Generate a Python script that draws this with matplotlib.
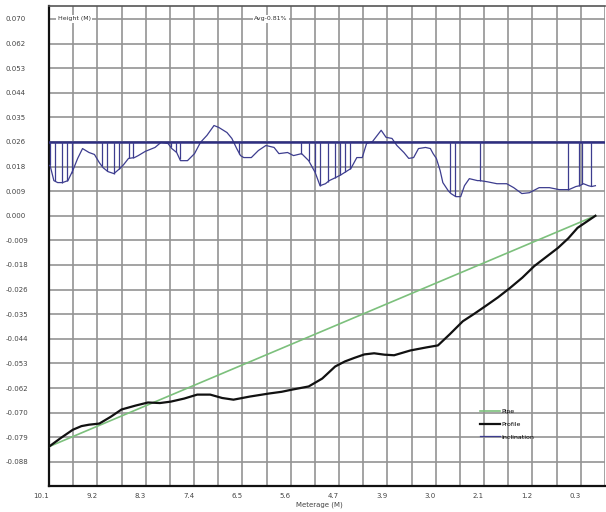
import numpy as np
import matplotlib
matplotlib.use("Agg")
import matplotlib.pyplot as plt

# ---- data ----
y_tick_vals = [0.07, 0.06125, 0.0525, 0.04375, 0.035, 0.02625, 0.0175, 0.00875, 0.0,
               -0.00875, -0.0175, -0.02625, -0.035, -0.04375, -0.0525, -0.06125,
               -0.07, -0.07875, -0.0875]
y_tick_labels = ["0.070", "0.062", "0.053", "0.044", "0.035", "0.026", "0.018", "0.009",
                 "0.000", "-0.009", "-0.018", "-0.026", "-0.035", "-0.044", "-0.053",
                 "-0.062", "-0.070", "-0.079", "-0.088"]
x_tick_labels = ["10.1", "9.2", "8.3", "7.4", "6.5", "5.6", "4.7", "3.9", "3.0", "2.1", "1.2", "0.3"]

pipe_m = [10.1, 0.0]
pipe_v = [-0.0821, 0.0]

profile_m = [10.10, 9.88, 9.66, 9.50, 9.36, 9.17, 8.96, 8.76, 8.50, 8.27, 8.05, 7.85,
             7.60, 7.36, 7.12, 6.90, 6.69, 6.39, 6.03, 5.80, 5.60, 5.30, 5.05, 4.81,
             4.63, 4.45, 4.27, 4.09, 3.90, 3.72, 3.42, 3.12, 2.91, 2.69, 2.45, 2.25,
             2.03, 1.80, 1.58, 1.35, 1.13, 0.90, 0.69, 0.50, 0.33, 0.00]
profile_v = [-0.0821, -0.0790, -0.0761, -0.0748, -0.0743, -0.0739, -0.0715, -0.0689,
             -0.0675, -0.0664, -0.0666, -0.0661, -0.0650, -0.0636, -0.0636, -0.0648,
             -0.0654, -0.0643, -0.0632, -0.0626, -0.0618, -0.0607, -0.0579, -0.0536,
             -0.0518, -0.0505, -0.0493, -0.0489, -0.0494, -0.0496, -0.0479, -0.0468,
             -0.0461, -0.0421, -0.0375, -0.0350, -0.0321, -0.0290, -0.0257, -0.0220,
             -0.0179, -0.0145, -0.0114, -0.0080, -0.0043, 0.0]

incl_m = [10.10, 10.08, 10.01, 9.94, 9.85, 9.75, 9.66, 9.57, 9.48, 9.36, 9.26, 9.17,
          9.10, 9.01, 8.90, 8.79, 8.72, 8.63, 8.52, 8.45, 8.32, 8.14, 8.03, 7.90, 7.83,
          7.74, 7.67, 7.54, 7.41, 7.30, 7.18, 7.05, 6.96, 6.81, 6.72, 6.63, 6.56, 6.50,
          6.36, 6.23, 6.09, 5.94, 5.85, 5.69, 5.58, 5.43, 5.30, 5.18, 5.09, 4.99, 4.92,
          4.80, 4.70, 4.61, 4.52, 4.41, 4.31, 4.23, 4.12, 3.96, 3.87, 3.76, 3.67, 3.54,
          3.45, 3.36, 3.27, 3.14, 3.05, 3.00, 2.94, 2.87, 2.82, 2.72, 2.67, 2.58, 2.49,
          2.42, 2.33, 2.18, 2.13, 2.00, 1.82, 1.64, 1.51, 1.36, 1.22, 1.04, 0.85, 0.67,
          0.49, 0.36, 0.29, 0.22, 0.13, 0.07, 0.00]
incl_v = [0.0179, 0.0179, 0.0125, 0.0118, 0.0118, 0.0125, 0.0161, 0.0204, 0.0239,
          0.0225, 0.0218, 0.0189, 0.0171, 0.0157, 0.0150, 0.0168, 0.0182, 0.0204,
          0.0207, 0.0214, 0.0229, 0.0243, 0.0261, 0.0257, 0.0239, 0.0225, 0.0196,
          0.0196, 0.0221, 0.0261, 0.0286, 0.0321, 0.0314, 0.0296, 0.0275, 0.0239,
          0.0214, 0.0207, 0.0207, 0.0232, 0.0250, 0.0243, 0.0221, 0.0225, 0.0214,
          0.0221, 0.0196, 0.0154, 0.0107, 0.0114, 0.0125, 0.0136, 0.0146, 0.0157,
          0.0168, 0.0207, 0.0207, 0.0257, 0.0264, 0.0304, 0.0279, 0.0275, 0.0250,
          0.0225, 0.0204, 0.0207, 0.0239, 0.0243, 0.0239, 0.0221, 0.0204, 0.0161,
          0.0118, 0.0089, 0.0079, 0.0068, 0.0068, 0.0107, 0.0132, 0.0125, 0.0125,
          0.0121, 0.0114, 0.0114, 0.0100, 0.0079, 0.0082, 0.0100, 0.0100, 0.0093,
          0.0093, 0.0104, 0.0107, 0.0114, 0.0107, 0.0104, 0.0107]
incl_base = 0.02625
spike_m = [10.08, 9.99, 9.86, 9.77, 9.68, 9.12, 9.03, 8.90, 8.81, 8.63, 8.54, 7.85,
           7.76, 7.68, 6.58, 5.45, 5.30, 5.18, 5.09, 4.94, 4.81, 4.72, 4.63, 4.54,
           2.69, 2.60, 2.14, 0.51, 0.31, 0.24, 0.09]

# ---- figure ----
W, H = 606, 512
fig = plt.figure(figsize=(W / 100, H / 100), dpi=100)
ax = fig.add_axes([49 / W, 1 - 486 / H, 556 / W, 480 / H])

ax.set_xlim(10.1, 0.0)
ax.set_ylim(-0.0961, 0.0746)

grid_col = "#939393"
step = 0.8937
x_ticks = [10.1 - i * step for i in range(len(x_tick_labels))]
x_minor = [10.1 - (i + 0.5) * step for i in range(len(x_tick_labels))]
ax.set_xticks(x_ticks)
ax.set_xticklabels(x_tick_labels)
ax.set_xticks(x_minor, minor=True)
ax.set_yticks(y_tick_vals)
ax.set_yticklabels(y_tick_labels)
ax.grid(True, which="both", color=grid_col, linewidth=1.2)
ax.set_axisbelow(True)

ax.tick_params(axis="both", which="both", length=0, labelsize=5, labelcolor="#444444")
ax.tick_params(axis="y", pad=31)
for lab in ax.get_yticklabels():
    lab.set_horizontalalignment("left")
ax.tick_params(axis="x", pad=5)
for lab in ax.get_xticklabels():
    lab.set_horizontalalignment("right")

for s in ["left", "bottom"]:
    ax.spines[s].set_color("#111111")
    ax.spines[s].set_linewidth(1.6)
ax.spines["top"].set_color("#555555")
ax.spines["top"].set_linewidth(1.2)
ax.spines["right"].set_visible(False)

# series
ax.plot(pipe_m, pipe_v, color="#7cc07c", linewidth=1.2, label="Pipe", zorder=3)
ax.plot(profile_m, profile_v, color="#111111", linewidth=1.6, label="Profile", zorder=4)
ax.plot(incl_m, incl_v, color="#3d3d8f", linewidth=0.9, label="Inclination", zorder=3)
ax.axhline(incl_base, color="#2e2e80", linewidth=1.8, zorder=3)
m_rev = np.array(incl_m)[::-1]
v_rev = np.array(incl_v)[::-1]
spike_low = np.interp(spike_m, m_rev, v_rev)
ax.vlines(spike_m, spike_low, incl_base, color="#3d3d8f", linewidth=0.9, zorder=3)

# texts
ax.text(10.1 - 9 / 55.05, 0.070, "Height (M)", fontsize=4.5, color="#333333",
        va="center", ha="left", zorder=5,
        bbox=dict(facecolor="white", edgecolor="none", pad=1))
ax.text(10.1 - 209 / 55.05, 0.070, "Avg-0.81%", fontsize=4.5, color="#333333",
        va="center", ha="left", zorder=5,
        bbox=dict(facecolor="white", edgecolor="none", pad=1))

ax.set_xlabel("Meterage (M)", fontsize=5, color="#444444")
ax.xaxis.set_label_coords(0.486, -0.040)
ax.xaxis.label.set_verticalalignment("center")

leg = ax.legend(loc="upper left", bbox_to_anchor=(428 / 556, 1 - 400 / 480),
                frameon=False, fontsize=4.5, handlelength=3.2, handletextpad=0.3,
                labelspacing=1.2, borderaxespad=0)

fig.savefig("out.png", dpi=100)
